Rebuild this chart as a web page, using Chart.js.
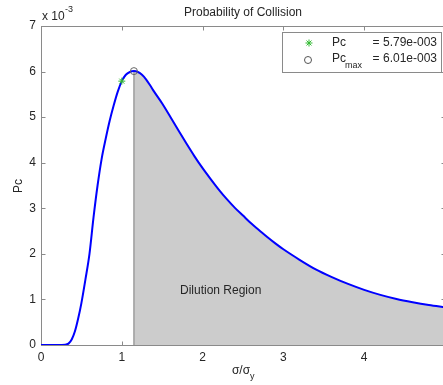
<!DOCTYPE html>
<html><head><meta charset="utf-8">
<script src="https://cdn.jsdelivr.net/npm/chart.js@4"></script>
<style>html,body{margin:0;padding:0;overflow:hidden;background:#fff}canvas{display:block}</style>
</head><body>
<canvas id="c" width="450" height="385" style="width:450px;height:385px"></canvas>
<script>
// sigma / sigma_y
const ratio = [0,0.1,0.2,0.3,0.34,0.38,0.42,0.46,0.5,0.55,0.6,0.65,0.7,0.75,0.8,0.85,0.9,0.95,1.0,1.05,1.1,1.15,1.2,1.25,1.3,1.35,1.4,1.5,1.6,1.7,1.8,1.9,2.0,2.1,2.2,2.3,2.4,2.5,2.6,2.7,2.8,2.9,3.0,3.2,3.4,3.6,3.8,4.0,4.2,4.4,4.6,4.8,5.0];
// Pc in units of 1e-3
const pcE3 = [0,0,0,0.005,0.03,0.12,0.3,0.58,0.92,1.44,2.0,2.8,3.5,4.08,4.52,4.92,5.26,5.56,5.79,5.93,5.99,6.01,5.99,5.93,5.83,5.7,5.56,5.3,5.01,4.71,4.42,4.14,3.88,3.64,3.41,3.2,3.01,2.84,2.67,2.52,2.37,2.23,2.1,1.87,1.66,1.49,1.34,1.21,1.1,1.01,0.94,0.88,0.83];
const xTicks = [0,1,2,3,4,5];
const yTicks = [0,1,2,3,4,5,6,7];
const pcPoint = {x:1.0, y:5.79};
const pcMaxPoint = {x:1.15, y:6.01};
const legendPc = '= 5.79e-003';
const legendMax = '= 6.01e-003';

const F = "'Liberation Sans', Arial, Helvetica, sans-serif";
const TXT = '#262626';
const AX = '#8a8a8a';

const curve = ratio.map((v,i)=>({x:v, y:pcE3[i]}));
const dilution = curve.filter(p => p.x >= pcMaxPoint.x);

function line(ctx,x1,y1,x2,y2){ctx.beginPath();ctx.moveTo(x1,y1);ctx.lineTo(x2,y2);ctx.stroke();}

const deco = {
  id:'deco',
  beforeDraw(chart){
    const ctx = chart.ctx; ctx.save(); ctx.fillStyle='#fff'; ctx.fillRect(0,0,chart.width,chart.height); ctx.restore();
  },
  beforeDatasetsDraw(chart){
    const {ctx, chartArea:a, scales:{x,y}} = chart;
    ctx.save();
    ctx.strokeStyle = AX; ctx.lineWidth = 1;
    const L=Math.round(a.left)+0.5, R=Math.round(a.right)+0.5, T=Math.round(a.top)+0.5, B=Math.round(a.bottom)+0.5;
    ctx.strokeRect(L,T,R-L,B-T);
    xTicks.forEach(v=>{const px=Math.round(x.getPixelForValue(v))+0.5; line(ctx,px,B,px,B-4); line(ctx,px,T,px,T+4);});
    yTicks.forEach(v=>{const py=Math.round(y.getPixelForValue(v))+0.5; line(ctx,L,py,L+4,py); line(ctx,R,py,R-4,py);});
    ctx.restore();
  },
  afterDraw(chart){
    const {ctx, chartArea:a} = chart;
    ctx.save();
    ctx.fillStyle = TXT;
    // title
    ctx.font = '12px '+F; ctx.textAlign='center'; ctx.textBaseline='middle';
    ctx.fillText('Probability of Collision', (a.left+a.right)/2, 13);
    // exponent
    ctx.textAlign='left';
    ctx.fillText('x 10', 42, 17);
    ctx.font = '9px '+F;
    ctx.fillText('-3', 65, 10);
    // y label
    ctx.font = '12px '+F;
    ctx.save(); ctx.translate(19,186); ctx.rotate(-Math.PI/2); ctx.textAlign='center'; ctx.fillText('Pc',0,0); ctx.restore();
    // x label
    ctx.textAlign='left';
    const xl = 'σ/σ'; const w = ctx.measureText(xl).width;
    const cx = (a.left+a.right)/2 - 2;
    ctx.fillText(xl, cx - w/2, 371);
    ctx.font = '9px '+F;
    ctx.fillText('y', cx + w/2, 377);
    // region text
    ctx.font = '12px '+F;
    ctx.fillText('Dilution Region', 180, 291);
    // legend
    ctx.fillStyle='#fff'; ctx.strokeStyle=AX; ctx.lineWidth=1;
    ctx.fillRect(282.5,32.5,159,40); ctx.strokeRect(282.5,32.5,159,40);
    ctx.strokeStyle='#33bb33';
    Chart.helpers.drawPoint(ctx,{pointStyle:'star',radius:3.5,rotation:0,borderWidth:1}, 309, 43);
    ctx.strokeStyle='#555'; ctx.beginPath(); ctx.arc(308,60,3.5,0,Math.PI*2); ctx.stroke();
    ctx.fillStyle=TXT; ctx.font='12px '+F; ctx.textBaseline='middle';
    ctx.fillText('Pc', 332, 43);
    ctx.fillText('Pc', 332, 59);
    ctx.font='9px '+F; ctx.fillText('max', 345, 66);
    ctx.font='12px '+F; ctx.textAlign='right';
    ctx.fillText(legendPc, 437, 43);
    ctx.fillText(legendMax, 437, 59);
    ctx.restore();
  }
};

new Chart(document.getElementById('c'), {
  type:'scatter',
  data:{datasets:[
    {data:[pcPoint], pointStyle:'star', radius:3.5, borderColor:'#33bb33', borderWidth:1, showLine:false},
    {data:[pcMaxPoint], pointStyle:'circle', radius:3.5, borderColor:'#666', backgroundColor:'rgba(0,0,0,0)', borderWidth:1, showLine:false},
    {data:curve, showLine:true, borderColor:'#0000ff', borderWidth:2, pointRadius:0, cubicInterpolationMode:'monotone', fill:false},
    {data:[{x:pcMaxPoint.x,y:0},{x:pcMaxPoint.x,y:pcMaxPoint.y}], showLine:true, borderColor:'#7a7a7a', borderWidth:1, pointRadius:0, fill:false},
    {data:dilution, showLine:true, borderWidth:0, borderColor:'rgba(0,0,0,0)', backgroundColor:'#cccccc', pointRadius:0, cubicInterpolationMode:'monotone', fill:'origin'}
  ]},
  options:{
    responsive:false, animation:false, devicePixelRatio:1,
    layout:{padding:{top:26,right:4,left:0,bottom:0}},
    plugins:{legend:{display:false}, tooltip:{enabled:false}},
    scales:{
      x:{type:'linear', min:0, max:5,
        afterBuildTicks(s){ s.ticks = xTicks.map(v=>({value:v})); },
        ticks:{font:{family:F,size:12}, color:TXT, padding:5, maxRotation:0, callback:v=> v===5?'':String(v)},
        grid:{display:false, drawTicks:false}, border:{display:false},
        afterFit(s){ s.height = 40; }
      },
      y:{type:'linear', min:0, max:7,
        afterBuildTicks(s){ s.ticks = yTicks.map(v=>({value:v})); },
        ticks:{font:{family:F,size:12}, color:TXT, padding:5, callback:v=>String(v)},
        grid:{display:false, drawTicks:false}, border:{display:false},
        afterFit(s){ s.width = 41; }
      }
    }
  },
  plugins:[deco]
});
</script>
</body></html>
